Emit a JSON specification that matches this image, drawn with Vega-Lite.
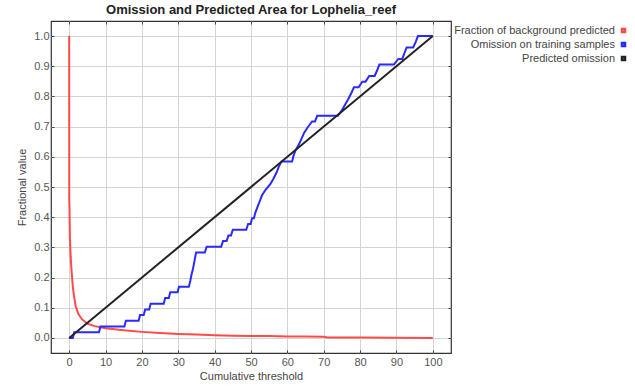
{
  "$schema": "https://vega.github.io/schema/vega-lite/v6.json",
  "width": 400,
  "height": 332,
  "autosize": {"type": "none"},
  "padding": {"left": 51, "top": 21, "right": 184, "bottom": 37},
  "background": "white",
  "title": {"text": "Omission and Predicted Area for Lophelia_reef", "font": "Liberation Sans", "fontSize": 13, "fontWeight": "bold", "color": "#222", "anchor": "middle", "offset": 4},
  "config": {
    "view": {"stroke": "#333", "strokeWidth": 1.2},
    "axis": {"gridColor": "#d4d4d4", "gridWidth": 1, "domain": false, "tickColor": "#444", "tickSize": -3, "labelFont": "Liberation Sans", "labelFontSize": 11, "labelColor": "#555", "titleFont": "Liberation Sans", "titleFontSize": 11, "titleFontWeight": "normal", "titleColor": "#444"}
  },
  "data": {"values": [
    {"s": "Fraction of background predicted", "x": 0, "y": 1.0},
    {"s": "Fraction of background predicted", "x": 0.02, "y": 0.46},
    {"s": "Fraction of background predicted", "x": 0.1, "y": 0.42},
    {"s": "Fraction of background predicted", "x": 0.2, "y": 0.33},
    {"s": "Fraction of background predicted", "x": 0.4, "y": 0.27},
    {"s": "Fraction of background predicted", "x": 0.7, "y": 0.215},
    {"s": "Fraction of background predicted", "x": 1.0, "y": 0.17},
    {"s": "Fraction of background predicted", "x": 1.3, "y": 0.14},
    {"s": "Fraction of background predicted", "x": 1.8, "y": 0.105},
    {"s": "Fraction of background predicted", "x": 2.5, "y": 0.08},
    {"s": "Fraction of background predicted", "x": 3.5, "y": 0.062},
    {"s": "Fraction of background predicted", "x": 5, "y": 0.047},
    {"s": "Fraction of background predicted", "x": 7, "y": 0.039},
    {"s": "Fraction of background predicted", "x": 10, "y": 0.032},
    {"s": "Fraction of background predicted", "x": 15, "y": 0.025},
    {"s": "Fraction of background predicted", "x": 20, "y": 0.02},
    {"s": "Fraction of background predicted", "x": 25, "y": 0.016},
    {"s": "Fraction of background predicted", "x": 30, "y": 0.013},
    {"s": "Fraction of background predicted", "x": 35, "y": 0.011},
    {"s": "Fraction of background predicted", "x": 40, "y": 0.009},
    {"s": "Fraction of background predicted", "x": 45, "y": 0.0075},
    {"s": "Fraction of background predicted", "x": 50, "y": 0.0065},
    {"s": "Fraction of background predicted", "x": 55, "y": 0.006},
    {"s": "Fraction of background predicted", "x": 60, "y": 0.005},
    {"s": "Fraction of background predicted", "x": 65, "y": 0.0045},
    {"s": "Fraction of background predicted", "x": 70, "y": 0.004},
    {"s": "Fraction of background predicted", "x": 71, "y": 0.0015},
    {"s": "Fraction of background predicted", "x": 80, "y": 0.001},
    {"s": "Fraction of background predicted", "x": 90, "y": 0.0008},
    {"s": "Fraction of background predicted", "x": 100, "y": 0.0},
    {"s": "Omission on training samples", "x": 0, "y": 0},
    {"s": "Omission on training samples", "x": 1.0, "y": 0},
    {"s": "Omission on training samples", "x": 1.4, "y": 0.0189},
    {"s": "Omission on training samples", "x": 8.2, "y": 0.0189},
    {"s": "Omission on training samples", "x": 8.6, "y": 0.0377},
    {"s": "Omission on training samples", "x": 15.2, "y": 0.0377},
    {"s": "Omission on training samples", "x": 15.6, "y": 0.0566},
    {"s": "Omission on training samples", "x": 19.1, "y": 0.0566},
    {"s": "Omission on training samples", "x": 19.5, "y": 0.0755},
    {"s": "Omission on training samples", "x": 20.5, "y": 0.0755},
    {"s": "Omission on training samples", "x": 20.9, "y": 0.0943},
    {"s": "Omission on training samples", "x": 22.0, "y": 0.0943},
    {"s": "Omission on training samples", "x": 22.4, "y": 0.1132},
    {"s": "Omission on training samples", "x": 26.0, "y": 0.1132},
    {"s": "Omission on training samples", "x": 26.4, "y": 0.1321},
    {"s": "Omission on training samples", "x": 27.4, "y": 0.1321},
    {"s": "Omission on training samples", "x": 27.8, "y": 0.1509},
    {"s": "Omission on training samples", "x": 29.8, "y": 0.1509},
    {"s": "Omission on training samples", "x": 30.2, "y": 0.1698},
    {"s": "Omission on training samples", "x": 32.9, "y": 0.1698},
    {"s": "Omission on training samples", "x": 33.3, "y": 0.1887},
    {"s": "Omission on training samples", "x": 33.6, "y": 0.2075},
    {"s": "Omission on training samples", "x": 34.0, "y": 0.2264},
    {"s": "Omission on training samples", "x": 34.3, "y": 0.2453},
    {"s": "Omission on training samples", "x": 34.6, "y": 0.2642},
    {"s": "Omission on training samples", "x": 34.9, "y": 0.2830},
    {"s": "Omission on training samples", "x": 37.3, "y": 0.2830},
    {"s": "Omission on training samples", "x": 37.8, "y": 0.3019},
    {"s": "Omission on training samples", "x": 41.8, "y": 0.3019},
    {"s": "Omission on training samples", "x": 42.3, "y": 0.3208},
    {"s": "Omission on training samples", "x": 43.3, "y": 0.3208},
    {"s": "Omission on training samples", "x": 43.8, "y": 0.3396},
    {"s": "Omission on training samples", "x": 44.5, "y": 0.3396},
    {"s": "Omission on training samples", "x": 45.0, "y": 0.3585},
    {"s": "Omission on training samples", "x": 48.7, "y": 0.3585},
    {"s": "Omission on training samples", "x": 49.2, "y": 0.3774},
    {"s": "Omission on training samples", "x": 49.9, "y": 0.3774},
    {"s": "Omission on training samples", "x": 50.3, "y": 0.3962},
    {"s": "Omission on training samples", "x": 50.8, "y": 0.3962},
    {"s": "Omission on training samples", "x": 51.2, "y": 0.4151},
    {"s": "Omission on training samples", "x": 51.8, "y": 0.4340},
    {"s": "Omission on training samples", "x": 52.4, "y": 0.4528},
    {"s": "Omission on training samples", "x": 53.0, "y": 0.4717},
    {"s": "Omission on training samples", "x": 54.0, "y": 0.4906},
    {"s": "Omission on training samples", "x": 55.3, "y": 0.5094},
    {"s": "Omission on training samples", "x": 56.2, "y": 0.5283},
    {"s": "Omission on training samples", "x": 57.0, "y": 0.5472},
    {"s": "Omission on training samples", "x": 57.6, "y": 0.5660},
    {"s": "Omission on training samples", "x": 58.4, "y": 0.5849},
    {"s": "Omission on training samples", "x": 61.3, "y": 0.5849},
    {"s": "Omission on training samples", "x": 61.7, "y": 0.6038},
    {"s": "Omission on training samples", "x": 62.3, "y": 0.6226},
    {"s": "Omission on training samples", "x": 63.2, "y": 0.6415},
    {"s": "Omission on training samples", "x": 63.9, "y": 0.6604},
    {"s": "Omission on training samples", "x": 64.6, "y": 0.6792},
    {"s": "Omission on training samples", "x": 65.6, "y": 0.6981},
    {"s": "Omission on training samples", "x": 66.8, "y": 0.7170},
    {"s": "Omission on training samples", "x": 67.6, "y": 0.7170},
    {"s": "Omission on training samples", "x": 68.2, "y": 0.7358},
    {"s": "Omission on training samples", "x": 73.9, "y": 0.7358},
    {"s": "Omission on training samples", "x": 75.0, "y": 0.7547},
    {"s": "Omission on training samples", "x": 75.9, "y": 0.7736},
    {"s": "Omission on training samples", "x": 76.8, "y": 0.7925},
    {"s": "Omission on training samples", "x": 77.6, "y": 0.8113},
    {"s": "Omission on training samples", "x": 78.3, "y": 0.8302},
    {"s": "Omission on training samples", "x": 79.6, "y": 0.8302},
    {"s": "Omission on training samples", "x": 80.6, "y": 0.8491},
    {"s": "Omission on training samples", "x": 81.5, "y": 0.8491},
    {"s": "Omission on training samples", "x": 82.5, "y": 0.8679},
    {"s": "Omission on training samples", "x": 84.0, "y": 0.8679},
    {"s": "Omission on training samples", "x": 84.7, "y": 0.8868},
    {"s": "Omission on training samples", "x": 85.3, "y": 0.9057},
    {"s": "Omission on training samples", "x": 89.3, "y": 0.9057},
    {"s": "Omission on training samples", "x": 90.5, "y": 0.9245},
    {"s": "Omission on training samples", "x": 91.6, "y": 0.9245},
    {"s": "Omission on training samples", "x": 92.2, "y": 0.9434},
    {"s": "Omission on training samples", "x": 92.8, "y": 0.9623},
    {"s": "Omission on training samples", "x": 94.6, "y": 0.9623},
    {"s": "Omission on training samples", "x": 95.3, "y": 0.9811},
    {"s": "Omission on training samples", "x": 95.9, "y": 1.0},
    {"s": "Omission on training samples", "x": 100, "y": 1.0},
    {"s": "Predicted omission", "x": 0, "y": 0},
    {"s": "Predicted omission", "x": 100, "y": 1}
  ]},
  "layer": [
    {
      "mark": {"type": "line", "strokeWidth": 2, "interpolate": "linear"},
      "encoding": {
        "x": {"field": "x", "type": "quantitative", "scale": {"domain": [-5, 105], "nice": false, "zero": false},
          "axis": {"values": [0,10,20,30,40,50,60,70,80,90,100], "format": "d", "title": "Cumulative threshold", "labelPadding": 6, "titlePadding": 3}},
        "y": {"field": "y", "type": "quantitative", "scale": {"domain": [-0.05, 1.05], "nice": false, "zero": false},
          "axis": {"values": [0,0.1,0.2,0.3,0.4,0.5,0.6,0.7,0.8,0.9,1.0], "format": ".1f", "title": "Fractional value", "labelPadding": 5, "titlePadding": 6}},
        "color": {"field": "s", "type": "nominal",
          "scale": {"domain": ["Fraction of background predicted", "Omission on training samples", "Predicted omission"], "range": ["#ff4a4a", "#2a2aff", "#222222"]},
          "legend": {"orient": "none", "legendX": 567, "legendY": 4, "title": null, "symbolType": "square", "symbolSize": 9, "symbolStrokeWidth": 2.5, "labelAlign": "right", "labelOffset": -14, "labelFont": "Liberation Sans", "labelFontSize": 11, "labelColor": "#444", "rowPadding": 1, "labelLimit": 300}}
      }
    },
    {
      "mark": {"type": "rule", "opacity": 0},
      "encoding": {
        "x": {"datum": 0, "type": "quantitative", "axis": {"orient": "top", "values": [0,10,20,30,40,50,60,70,80,90,100], "labels": false, "title": null, "grid": false}},
        "y": {"datum": 0, "type": "quantitative", "axis": {"orient": "right", "values": [0,0.1,0.2,0.3,0.4,0.5,0.6,0.7,0.8,0.9,1.0], "labels": false, "title": null, "grid": false}}
      }
    }
  ],
  "resolve": {"axis": {"x": "independent", "y": "independent"}}
}
